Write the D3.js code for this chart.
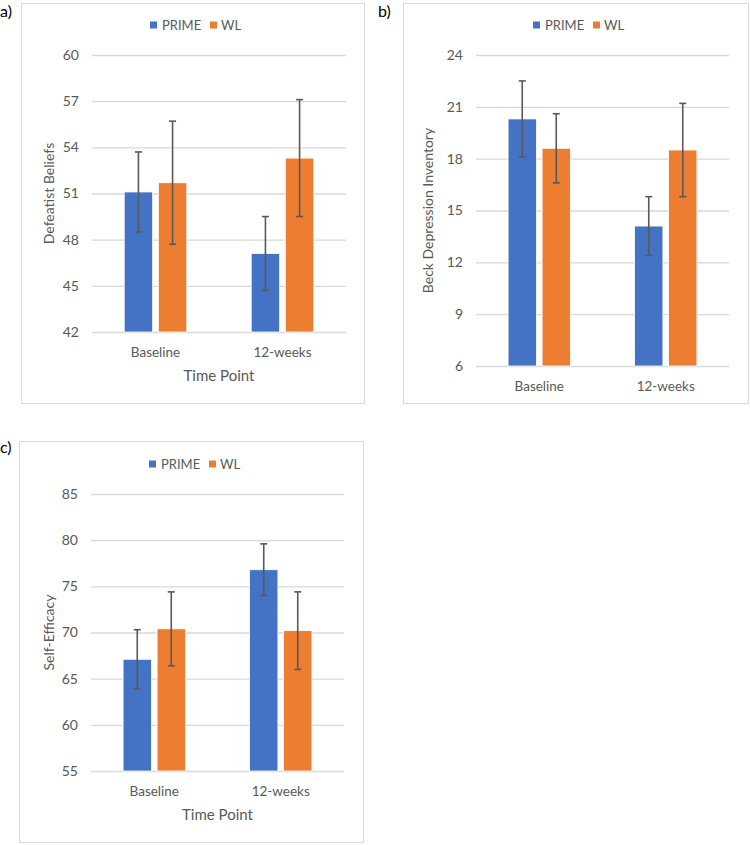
<!DOCTYPE html>
<html>
<head>
<meta charset="utf-8">
<script src="https://cdn.jsdelivr.net/npm/d3@7"></script>
<style>
  body { margin: 0; background: #fff; }
  svg { display: block; font-family: Lato, "Open Sans", sans-serif; }
</style>
</head>
<body>
<svg id="chart" width="750" height="845"></svg>
<script>
// ---------- data ----------
const categories = ["Baseline", "12-weeks"];
const seriesNames = ["PRIME", "WL"];

const defeatistPrime = [51.1, 47.1];
const defeatistPrimeErr = [2.6, 2.4];
const defeatistWL = [51.7, 53.3];
const defeatistWLErr = [4.0, 3.8];
const defeatistTicks = [42, 45, 48, 51, 54, 57, 60];

const bdiPrime = [20.3, 14.1];
const bdiPrimeErr = [2.2, 1.7];
const bdiWL = [18.6, 18.5];
const bdiWLErr = [2.0, 2.7];
const bdiTicks = [6, 9, 12, 15, 18, 21, 24];

const sePrime = [67.1, 76.8];
const sePrimeErr = [3.2, 2.8];
const seWL = [70.4, 70.2];
const seWLErr = [4.0, 4.2];
const seTicks = [55, 60, 65, 70, 75, 80, 85];

const colors = ["#4472C4", "#ED7D31"];
const textColor = "#595959";
const gridColor = "#D9D9D9";

const svg = d3.select("#chart");

function drawPanel(cfg) {
  const g = svg.append("g");
  // frame
  g.append("rect")
    .attr("x", cfg.frame[0] + 0.5).attr("y", cfg.frame[1] + 0.5)
    .attr("width", cfg.frame[2] - cfg.frame[0]).attr("height", cfg.frame[3] - cfg.frame[1])
    .attr("fill", "none").attr("stroke", gridColor).attr("stroke-width", 1);

  // panel letter
  svg.append("text").attr("x", cfg.letterPos[0]).attr("y", cfg.letterPos[1])
    .attr("font-size", 16).attr("fill", "#000").text(cfg.letter);

  const [px0, py0, px1, py1] = cfg.plot;
  const y = d3.scaleLinear().domain(d3.extent(cfg.ticks)).range([py1, py0]);
  const x0 = d3.scaleBand().domain(categories).range([px0, px1]).paddingInner(0).paddingOuter(0);
  const bw = x0.bandwidth() * 0.224;
  const gap = bw * 0.2;

  // grid lines via axis
  const yAxis = d3.axisLeft(y).tickValues(cfg.ticks).tickSize(-(px1 - px0)).tickPadding(13);
  const ag = g.append("g").attr("transform", `translate(${px0},0)`).call(yAxis);
  ag.select(".domain").remove();
  ag.selectAll(".tick line").attr("stroke", gridColor).attr("stroke-width", 1.3);
  ag.selectAll(".tick text").attr("fill", textColor).attr("font-size", 14).attr("font-family", "Lato, sans-serif");

  // bars
  const series = [
    { name: "PRIME", vals: cfg.prime, errs: cfg.primeErr, color: colors[0] },
    { name: "WL", vals: cfg.wl, errs: cfg.wlErr, color: colors[1] }
  ];
  series.forEach((s, si) => {
    categories.forEach((c, ci) => {
      const cx = x0(c) + x0.bandwidth() / 2;
      const bx = si === 0 ? cx - gap / 2 - bw : cx + gap / 2;
      g.append("rect")
        .attr("x", bx).attr("y", y(s.vals[ci]))
        .attr("width", bw).attr("height", y(cfg.ticks[0]) - y(s.vals[ci]))
        .attr("fill", s.color).attr("stroke", "#fff").attr("stroke-width", 0.8);
      const ex = bx + bw / 2;
      const hi = y(s.vals[ci] + s.errs[ci]);
      const lo = y(s.vals[ci] - s.errs[ci]);
      const eg = g.append("g").attr("stroke", "#595959").attr("stroke-width", 1.6);
      eg.append("line").attr("x1", ex).attr("x2", ex).attr("y1", hi).attr("y2", lo);
      eg.append("line").attr("x1", ex - 3.5).attr("x2", ex + 3.5).attr("y1", hi).attr("y2", hi);
      eg.append("line").attr("x1", ex - 3.5).attr("x2", ex + 3.5).attr("y1", lo).attr("y2", lo);
    });
  });

  // category labels
  categories.forEach(c => {
    g.append("text").attr("x", x0(c) + x0.bandwidth() / 2).attr("y", py1 + 25)
      .attr("text-anchor", "middle").attr("fill", textColor).attr("font-size", 13.5).text(c);
  });

  // x title
  if (cfg.xTitle) {
    g.append("text").attr("x", (px0 + px1) / 2).attr("y", py1 + 49)
      .attr("text-anchor", "middle").attr("fill", textColor).attr("font-size", 15).text(cfg.xTitle);
  }
  // y title
  const yc = (py0 + py1) / 2;
  g.append("text").attr("transform", `translate(${cfg.yTitleX},${yc}) rotate(-90)`)
    .attr("text-anchor", "middle").attr("dominant-baseline", "middle")
    .attr("fill", textColor).attr("font-size", 14).text(cfg.yTitle);

  // legend
  const lx = cfg.legend[0], ly = cfg.legend[1];
  g.append("rect").attr("x", lx).attr("y", ly - 3.5).attr("width", 7).attr("height", 7).attr("fill", colors[0]);
  g.append("text").attr("x", lx + 12).attr("y", ly + 4.5).attr("fill", textColor).attr("font-size", 13).text(seriesNames[0]);
  g.append("rect").attr("x", lx + 60).attr("y", ly - 3.5).attr("width", 7).attr("height", 7).attr("fill", colors[1]);
  g.append("text").attr("x", lx + 71).attr("y", ly + 4.5).attr("fill", textColor).attr("font-size", 13).text(seriesNames[1]);
}

drawPanel({
  letter: "a)", letterPos: [0, 17],
  frame: [21, 3, 364, 403], plot: [92, 55, 346, 332],
  ticks: defeatistTicks, prime: defeatistPrime, primeErr: defeatistPrimeErr,
  wl: defeatistWL, wlErr: defeatistWLErr,
  yTitle: "Defeatist Beliefs", yTitleX: 50, xTitle: "Time Point", legend: [150, 25]
});
drawPanel({
  letter: "b)", letterPos: [378, 17],
  frame: [403, 3, 748, 403], plot: [476, 55, 729, 366],
  ticks: bdiTicks, prime: bdiPrime, primeErr: bdiPrimeErr,
  wl: bdiWL, wlErr: bdiWLErr,
  yTitle: "Beck Depression Inventory", yTitleX: 429, xTitle: null, legend: [533, 25]
});
drawPanel({
  letter: "c)", letterPos: [0, 453],
  frame: [19, 441, 363, 842], plot: [91, 494, 344, 771],
  ticks: seTicks, prime: sePrime, primeErr: sePrimeErr,
  wl: seWL, wlErr: seWLErr,
  yTitle: "Self-Efficacy", yTitleX: 50, xTitle: "Time Point", legend: [149, 464]
});
</script>
</body>
</html>
